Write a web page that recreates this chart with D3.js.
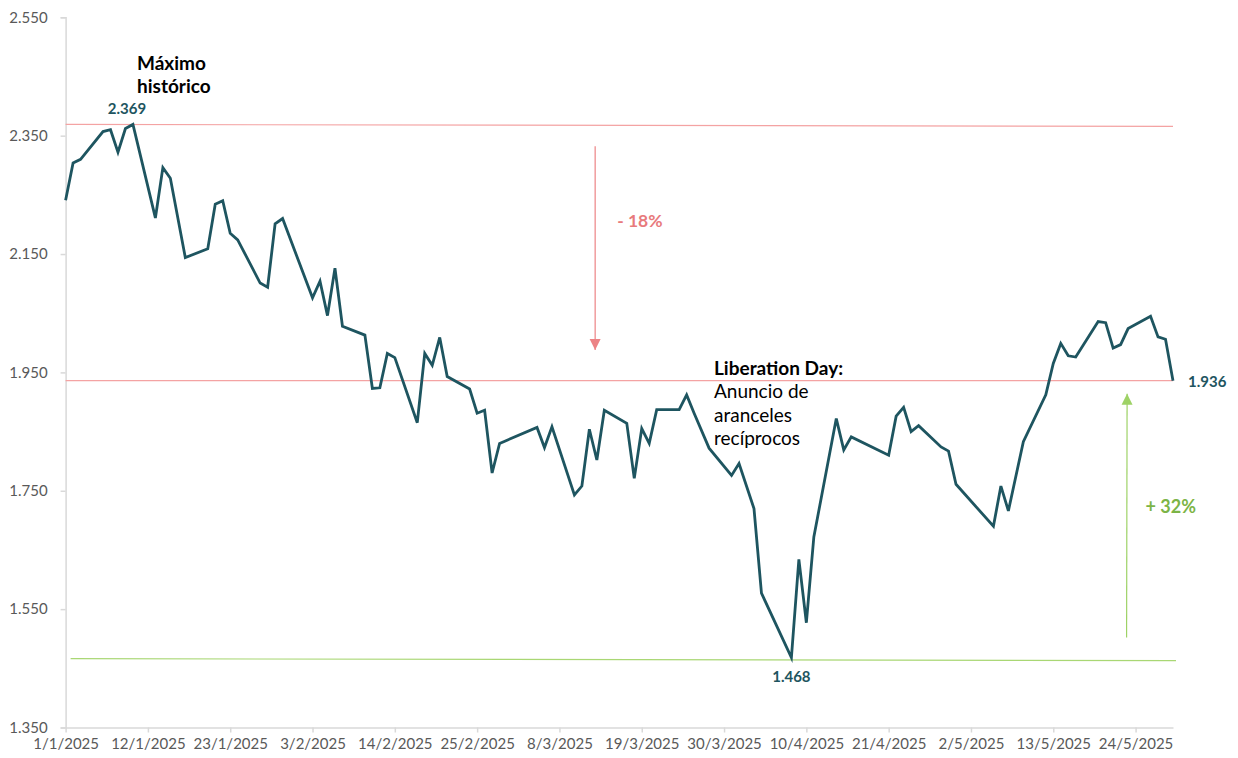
<!DOCTYPE html>
<html lang="es">
<head>
<meta charset="utf-8">
<script src="https://cdn.jsdelivr.net/npm/d3@7"></script>
<style>
  html, body { margin: 0; padding: 0; background: #ffffff; }
  svg { display: block; font-family: Lato, "Open Sans", sans-serif; }
</style>
</head>
<body>
<svg id="chart" width="1238" height="758"></svg>
<script>
// Daily closes (trading days where the line changes direction)
const dates = [
  "2025-01-01","2025-01-02","2025-01-03","2025-01-06","2025-01-07","2025-01-08","2025-01-09","2025-01-10",
  "2025-01-13","2025-01-14","2025-01-15","2025-01-17","2025-01-20","2025-01-21","2025-01-22","2025-01-23",
  "2025-01-24","2025-01-27","2025-01-28","2025-01-29","2025-01-30","2025-02-03","2025-02-04","2025-02-05",
  "2025-02-06","2025-02-07","2025-02-10","2025-02-11","2025-02-12","2025-02-13","2025-02-14","2025-02-17",
  "2025-02-18","2025-02-19","2025-02-20","2025-02-21","2025-02-24","2025-02-25","2025-02-26","2025-02-27",
  "2025-02-28","2025-03-05","2025-03-06","2025-03-07","2025-03-10","2025-03-11","2025-03-12","2025-03-13",
  "2025-03-14","2025-03-17","2025-03-18","2025-03-19","2025-03-20","2025-03-21","2025-03-24","2025-03-25",
  "2025-03-26","2025-03-28","2025-03-31","2025-04-01","2025-04-03","2025-04-04","2025-04-08","2025-04-09",
  "2025-04-10","2025-04-11","2025-04-14","2025-04-15","2025-04-16","2025-04-21","2025-04-22","2025-04-23",
  "2025-04-24","2025-04-25","2025-04-28","2025-04-29","2025-04-30","2025-05-05","2025-05-06","2025-05-07",
  "2025-05-09","2025-05-12","2025-05-13","2025-05-14","2025-05-15","2025-05-16","2025-05-19","2025-05-20",
  "2025-05-21","2025-05-22","2025-05-23","2025-05-26","2025-05-27","2025-05-28","2025-05-29"
];
const closes = [
  2241, 2304, 2310, 2357, 2360, 2322, 2362, 2369,
  2211, 2296, 2278, 2144, 2159, 2234, 2240, 2185,
  2174, 2101, 2094, 2201, 2210, 2076, 2104, 2046,
  2126, 2028, 2013, 1923, 1924, 1982, 1975, 1865,
  1982, 1962, 2009, 1943, 1922, 1881, 1886, 1780,
  1830, 1857, 1823, 1858, 1743, 1758, 1854, 1802,
  1886, 1864, 1771, 1855, 1830, 1887, 1887, 1912,
  1881, 1822, 1776, 1796, 1720, 1577, 1468, 1634,
  1527, 1672, 1872, 1819, 1841, 1810, 1876, 1891,
  1850, 1860, 1824, 1817, 1761, 1690, 1758, 1716,
  1833, 1912, 1965, 1999, 1978, 1976, 2036, 2034,
  1991, 1997, 2024, 2045, 2010, 2006, 1936
];

// Axis ticks
const yTicks = [1350, 1550, 1750, 1950, 2150, 2350, 2550];
const xTickLabels = ["1/1/2025","12/1/2025","23/1/2025","3/2/2025","14/2/2025","25/2/2025","8/3/2025",
                     "19/3/2025","30/3/2025","10/4/2025","21/4/2025","2/5/2025","13/5/2025","24/5/2025"];

// Reference levels: all-time high, latest close, post-announcement low
const levelHigh = 2369;
const levelLast = 1936;
const levelLow = 1468;

const parse = d3.timeParse("%Y-%m-%d");
const parseTick = d3.timeParse("%d/%m/%Y");
const series = dates.map((d, i) => ({ date: parse(d), value: closes[i] }));

const esFormat = d3.formatLocale({ decimal: ",", thousands: ".", grouping: [3], currency: ["", " €"] }).format(",d");

const svg = d3.select("#chart");
const x = d3.scaleTime()
  .domain([parse("2025-01-01"), parse("2025-05-29")])
  .range([65.6, 1173]);
const y = d3.scaleLinear()
  .domain([1350, 2550])
  .range([727.5, 17.3]);

const AXIS = "#d9d9d9";
const TEXT = "#595959";
const LINE = "#1e5560";
const RED = "#f4a3a3";
const RED_DARK = "#e87a7c";
const GREEN = "#a9d774";
const GREEN_DARK = "#7cb446";

// Y axis
const yAxis = svg.append("g")
  .attr("transform", `translate(${x.range()[0]},0)`)
  .call(d3.axisLeft(y).tickValues(yTicks).tickSize(5).tickPadding(13).tickFormat(esFormat));
yAxis.select(".domain").attr("stroke", AXIS).attr("stroke-width", 1.5);
yAxis.selectAll(".tick line").attr("stroke", AXIS).attr("stroke-width", 1.5);
yAxis.selectAll(".tick text").attr("fill", TEXT).style("font-size", "15px").style("font-family", "Lato, sans-serif");

// X axis
const xAxis = svg.append("g")
  .attr("transform", `translate(0,${y(1350)})`)
  .call(d3.axisBottom(x).tickValues(xTickLabels.map(parseTick)).tickSize(5).tickPadding(6)
    .tickFormat((d, i) => xTickLabels[i]).tickSizeOuter(0));
xAxis.select(".domain").attr("stroke", AXIS).attr("stroke-width", 1.5);
xAxis.selectAll(".tick line").attr("stroke", AXIS).attr("stroke-width", 1.5);
xAxis.selectAll(".tick text").attr("fill", TEXT).style("font-size", "15px").style("font-family", "Lato, sans-serif");

// Horizontal reference lines
const [d0, d1] = x.domain();
svg.append("line").attr("x1", x(d0)).attr("x2", x(d1)).attr("y1", y(levelHigh)).attr("y2", y(levelHigh) + 2)
  .attr("stroke", RED).attr("stroke-width", 1.2);
svg.append("line").attr("x1", x(d0)).attr("x2", x(d1)).attr("y1", y(levelLast)).attr("y2", y(levelLast))
  .attr("stroke", RED).attr("stroke-width", 1.2);
svg.append("line").attr("x1", x(d0) + 5).attr("x2", x(d1) + 3).attr("y1", y(levelLow) + 1).attr("y2", y(levelLow) + 3)
  .attr("stroke", GREEN).attr("stroke-width", 1.2);

// Price line
svg.append("path")
  .datum(series)
  .attr("fill", "none")
  .attr("stroke", LINE)
  .attr("stroke-width", 2.8)
  .attr("stroke-linejoin", "miter")
  .attr("d", d3.line().x(d => x(d.date)).y(d => y(d.value)));

// Arrows showing the drawdown and the rebound
function arrow(x1, y1, x2, y2, color) {
  svg.append("line").attr("x1", x1).attr("y1", y1).attr("x2", x2).attr("y2", y2)
    .attr("stroke", color).attr("stroke-width", 1.2);
  const ang = Math.atan2(y2 - y1, x2 - x1);
  const len = 11, half = 5.5;
  const bx = x2 - len * Math.cos(ang), by = y2 - len * Math.sin(ang);
  const px = -Math.sin(ang) * half, py = Math.cos(ang) * half;
  svg.append("path")
    .attr("d", `M${x2},${y2}L${bx + px},${by + py}L${bx - px},${by - py}Z`)
    .attr("fill", color);
}
const dropX = x(parse("2025-03-13")) - 1.7;
arrow(dropX, y(2332), dropX, y(1988), "#ec8385");
arrow(x(parse("2025-05-24")) - 9, y(1502), x(parse("2025-05-23")) - 1, y(1914), "#9ed266");

svg.append("text").attr("x", dropX + 22).attr("y", 227)
  .attr("fill", RED_DARK).style("font-size", "17.5px").style("font-weight", "700").text("- 18%");
svg.append("text").attr("x", x(parse("2025-05-26")) - 5).attr("y", 513)
  .attr("fill", GREEN_DARK).style("font-size", "18px").style("font-weight", "700").text("+ 32%");

// Value labels
const hi = series.find(d => d.value === levelHigh);
const lo = series.find(d => d.value === levelLow);
const last = series[series.length - 1];
svg.append("text").attr("x", x(hi.date) - 6).attr("y", y(hi.value) - 10).attr("text-anchor", "middle")
  .attr("fill", LINE).style("font-size", "15px").style("font-weight", "700").text(esFormat(hi.value));
svg.append("text").attr("x", x(lo.date)).attr("y", y(lo.value) + 24).attr("text-anchor", "middle")
  .attr("fill", LINE).style("font-size", "15px").style("font-weight", "700").text(esFormat(lo.value));
svg.append("text").attr("x", x(last.date) + 15).attr("y", y(last.value) + 6)
  .attr("fill", LINE).style("font-size", "15px").style("font-weight", "700").text(esFormat(last.value));

// Event annotations
const maxNote = svg.append("text").attr("x", 137).attr("y", 70)
  .attr("fill", "#000").style("font-size", "19px").style("font-weight", "700");
maxNote.append("tspan").attr("x", 137).attr("dy", 0).text("Máximo");
maxNote.append("tspan").attr("x", 137).attr("dy", 23).text("histórico");

const libNote = svg.append("text").attr("x", 714).attr("y", 375)
  .attr("fill", "#000").style("font-size", "19px");
libNote.append("tspan").attr("x", 714).attr("dy", 0).style("font-weight", "700").text("Liberation Day:");
libNote.append("tspan").attr("x", 714).attr("dy", 23.3).text("Anuncio de");
libNote.append("tspan").attr("x", 714).attr("dy", 23.3).text("aranceles");
libNote.append("tspan").attr("x", 714).attr("dy", 23.3).text("recíprocos");
</script>
</body>
</html>
